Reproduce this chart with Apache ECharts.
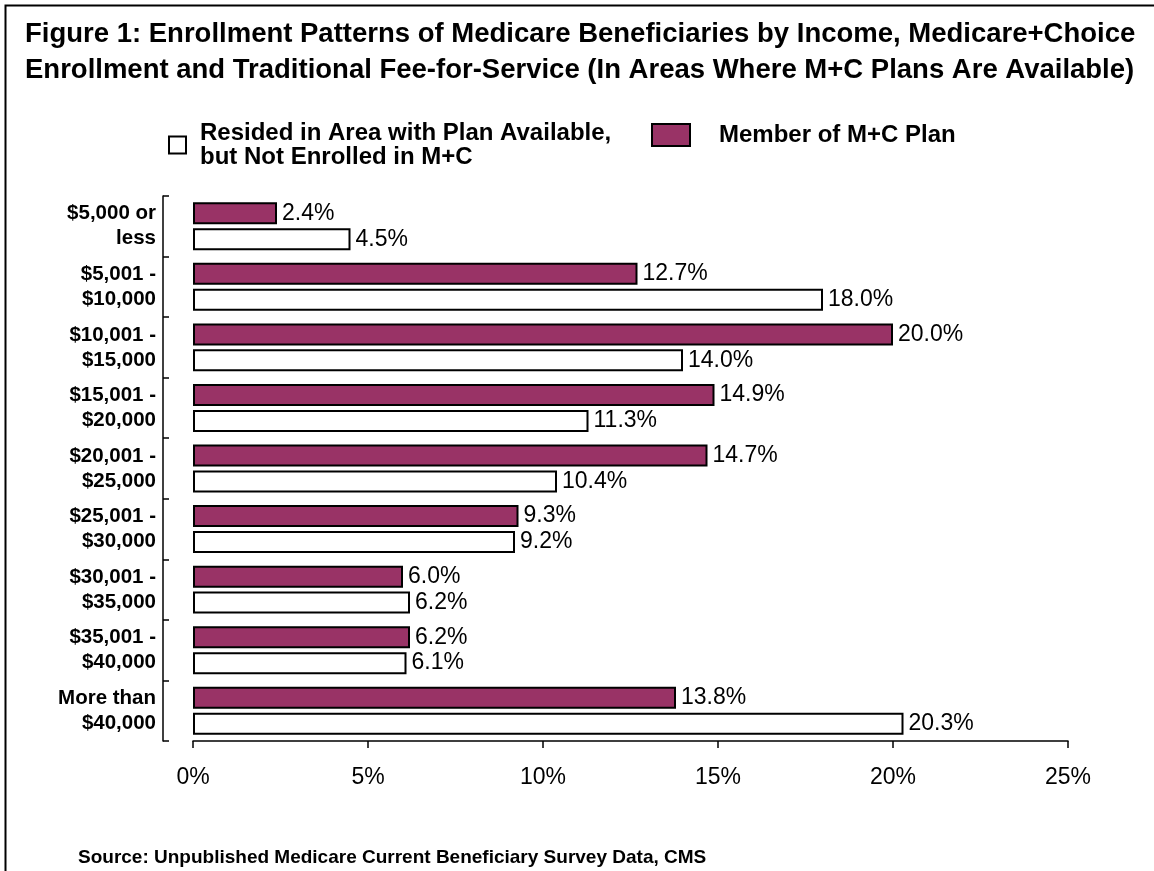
<!DOCTYPE html>
<html>
<head>
<meta charset="utf-8">
<script src="https://cdn.jsdelivr.net/npm/echarts@6/dist/echarts.min.js"></script>
<style>
html,body{margin:0;padding:0;background:#fff;}
#chart{width:1154px;height:871px;}
</style>
</head>
<body>
<div id="chart"></div>
<script>
var categories = ['$5,000 or\nless', '$5,001 -\n$10,000', '$10,001 -\n$15,000', '$15,001 -\n$20,000', '$20,001 -\n$25,000', '$25,001 -\n$30,000', '$30,001 -\n$35,000', '$35,001 -\n$40,000', 'More than\n$40,000'];
var memberValues = [2.4, 12.7, 20.0, 14.9, 14.7, 9.3, 6.0, 6.2, 13.8];
var notEnrolledValues = [4.5, 18.0, 14.0, 11.3, 10.4, 9.2, 6.2, 6.1, 20.3];
var xTicks = [0, 5, 10, 15, 20, 25];
var nameMember = 'Member of M+C Plan';
var nameNot = 'Resided in Area with Plan Available,\nbut Not Enrolled in M+C';

var FONT = '"Liberation Sans", Arial, sans-serif';
var chart = echarts.init(document.getElementById('chart'), null, {renderer: 'canvas'});
chart.setOption({
  animation: false,
  backgroundColor: '#fff',
  textStyle: {fontFamily: FONT, color: '#000'},
  title: {
    text: 'Figure 1: Enrollment Patterns of Medicare Beneficiaries by Income, Medicare+Choice\nEnrollment and Traditional Fee-for-Service (In Areas Where M+C Plans Are Available)',
    left: 20, top: 11,
    textStyle: {fontFamily: FONT, fontWeight: 'bold', fontSize: 27.5, lineHeight: 36, color: '#000'}
  },
  legend: [
    {
      data: [{name: nameNot, icon: 'rect'}],
      left: 163, top: 116, itemWidth: 17, itemHeight: 17, itemGap: 0,
      selectedMode: false,
      textStyle: {fontFamily: FONT, fontWeight: 'bold', fontSize: 24, lineHeight: 24, color: '#000', padding: [0,0,0,9]}
    },
    {
      data: [{name: nameMember, icon: 'rect'}],
      left: 646, top: 118, itemWidth: 38, itemHeight: 22,
      selectedMode: false,
      textStyle: {fontFamily: FONT, fontWeight: 'bold', fontSize: 24, color: '#000', padding: [2,0,0,24]}
    }
  ],
  grid: {left: 193, right: 86, top: 196, bottom: 130, containLabel: false},
  xAxis: {
    type: 'value', min: 0, max: 25, interval: 5,
    axisLine: {show: true, lineStyle: {color: '#000', width: 1.5}},
    axisTick: {show: true, length: 7, lineStyle: {color: '#000', width: 1.5}},
    splitLine: {show: false},
    axisLabel: {fontFamily: FONT, fontSize: 23, color: '#000', margin: 25,
      formatter: function (v) { return xTicks.indexOf(v) >= 0 ? v + '%' : ''; }}
  },
  yAxis: {
    type: 'category', data: categories, inverse: true, offset: 30,
    axisLine: {show: true, onZero: false, lineStyle: {color: '#000', width: 1.5}},
    axisTick: {show: true, inside: true, length: 6, lineStyle: {color: '#000', width: 1.5}},
    axisLabel: {fontFamily: FONT, fontWeight: 'bold', fontSize: 20.5, lineHeight: 25, color: '#000', margin: 7, align: 'right'}
  },
  series: [
    {
      name: nameMember, type: 'bar', data: memberValues,
      barWidth: 22, barGap: '18%',
      itemStyle: {color: '#993366', borderColor: '#000', borderWidth: 2},
      label: {show: true, position: 'right', distance: 5, fontFamily: FONT, fontSize: 23, color: '#000',
        formatter: function (p) { return p.value.toFixed(1) + '%'; }}
    },
    {
      name: nameNot, type: 'bar', data: notEnrolledValues,
      barWidth: 22, barGap: '18%',
      itemStyle: {color: '#fff', borderColor: '#000', borderWidth: 2},
      label: {show: true, position: 'right', distance: 5, fontFamily: FONT, fontSize: 23, color: '#000',
        formatter: function (p) { return p.value.toFixed(1) + '%'; }}
    }
  ],
  graphic: [
    {type: 'rect', shape: {x: 5.5, y: 5.5, width: 1300, height: 1000}, style: {fill: 'none', stroke: '#000', lineWidth: 2}, silent: true},
    {type: 'text', left: 78, top: 848, style: {text: 'Source: Unpublished Medicare Current Beneficiary Survey Data, CMS', font: 'bold 19px ' + FONT, fill: '#000'}}
  ]
});
</script>
</body>
</html>
